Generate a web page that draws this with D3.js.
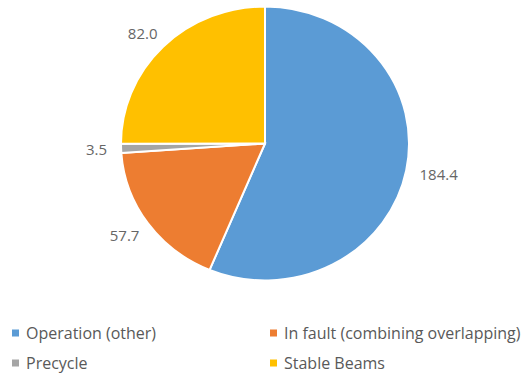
<!DOCTYPE html>
<html>
<head>
<meta charset="utf-8">
<script src="https://cdn.jsdelivr.net/npm/d3@7"></script>
<style>
  html, body { margin: 0; padding: 0; background: #fff; }
  svg { display: block; font-family: "Open Sans", "Segoe UI", sans-serif; }
</style>
</head>
<body>
<svg id="chart" width="529" height="375"></svg>
<script>
// Hours spent per machine state
const categories = ["Operation (other)", "In fault (combining overlapping)", "Precycle", "Stable Beams"];
const values = [184.4, 57.7, 3.5, 82.0];
const valueLabels = ["184.4", "57.7", "3.5", "82.0"];
const colors = ["#5B9BD5", "#ED7D31", "#A5A5A5", "#FFC000"];

const svg = d3.select("#chart");
const cx = 265, cy = 143.5;
const rx = 144, ry = 137;   // pie is drawn slightly squashed vertically

const data = categories.map((c, i) => ({ name: c, value: values[i], label: valueLabels[i], color: colors[i] }));

const pie = d3.pie().value(d => d.value).sort(null);
const arcs = pie(data);
const arc = d3.arc().innerRadius(0).outerRadius(rx);

const g = svg.append("g")
  .attr("transform", `translate(${cx},${cy}) scale(1,${ry / rx})`);

g.selectAll("path")
  .data(arcs)
  .join("path")
  .attr("d", arc)
  .attr("fill", d => d.data.color)
  .attr("stroke", "#fff")
  .attr("stroke-width", 2)
  .attr("vector-effect", "non-scaling-stroke");

// Outside-end data labels
const gap = 14;
const labels = svg.append("g")
  .attr("font-size", 15)
  .attr("fill", "#666");

arcs.forEach(a => {
  const mid = (a.startAngle + a.endAngle) / 2;
  const dx = Math.sin(mid), dy = -Math.cos(mid);
  const t = labels.append("text")
    .attr("text-anchor", "middle")
    .attr("dominant-baseline", "central")
    .text(a.data.label);
  const w = t.node().getComputedTextLength();
  const h = 12;
  const x = cx + dx * (rx + gap) + dx * w / 2;
  const y = cy + dy * (ry + gap) + dy * h / 2;
  t.attr("x", x).attr("y", y);
});

// Legend: two columns, two rows
const legendX = [12, 270];
const legendY = [333, 363];
const legend = svg.append("g")
  .attr("font-size", 16)
  .attr("fill", "#595959");

data.forEach((d, i) => {
  const col = i % 2, row = Math.floor(i / 2);
  const item = legend.append("g")
    .attr("transform", `translate(${legendX[col]},${legendY[row]})`);
  item.append("rect")
    .attr("x", 0).attr("y", -3.5)
    .attr("width", 7).attr("height", 7)
    .attr("fill", d.color);
  item.append("text")
    .attr("x", 14)
    .attr("y", 0)
    .attr("dominant-baseline", "central")
    .text(d.name);
});
</script>
</body>
</html>
